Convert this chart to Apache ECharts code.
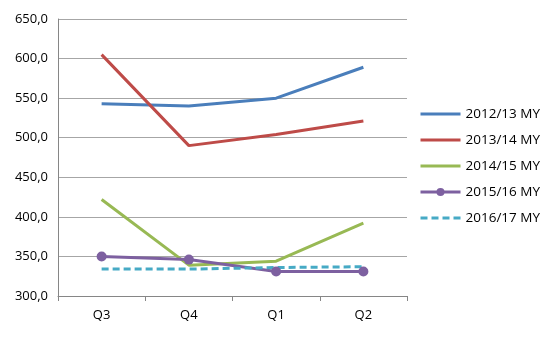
<!DOCTYPE html>
<html>
<head>
<meta charset="utf-8">
<script src="https://cdn.jsdelivr.net/npm/echarts@6/dist/echarts.min.js"></script>
<style>
  html, body { margin: 0; padding: 0; background: #fff; }
  #chart { width: 549px; height: 337px; }
</style>
</head>
<body>
<div id="chart"></div>
<script>
// Quarterly values per marketing year
const categories = ['Q3', 'Q4', 'Q1', 'Q2'];
const my2012 = [543, 540, 550, 589];
const my2013 = [605, 490, 504, 521];
const my2014 = [422, 339, 344, 392];
const my2015 = [350, 346, 331, 331];
const my2016 = [334, 334, 336, 337];

const seriesDefs = [
  { name: '2012/13 MY', data: my2012, color: '#4A7EBB' },
  { name: '2013/14 MY', data: my2013, color: '#BE4B48' },
  { name: '2014/15 MY', data: my2014, color: '#98B954' },
  { name: '2015/16 MY', data: my2015, color: '#7D60A0', marker: true },
  { name: '2016/17 MY', data: my2016, color: '#46AAC5', dashed: true }
];

const fontFamily = 'Open Sans, Noto Sans, sans-serif';
const chart = echarts.init(document.getElementById('chart'));

chart.setOption({
  animation: false,
  grid: { left: 58, right: 142, top: 19, bottom: 41 },
  xAxis: {
    type: 'category',
    data: categories,
    boundaryGap: true,
    axisLine: { lineStyle: { color: '#868686', width: 1 } },
    axisTick: { show: true, length: 5, lineStyle: { color: '#868686' } },
    axisLabel: { color: '#000', fontSize: 13, fontFamily: fontFamily, margin: 13 }
  },
  yAxis: {
    type: 'value',
    min: 300,
    max: 650,
    interval: 50,
    axisLine: { show: true, lineStyle: { color: '#868686', width: 1 } },
    axisTick: { show: false },
    splitLine: { lineStyle: { color: '#A6A6A6', width: 1 } },
    axisLabel: {
      color: '#000',
      fontSize: 13,
      fontFamily: fontFamily,
      margin: 10,
      formatter: v => v.toFixed(1).replace('.', ',')
    }
  },
  legend: {
    orient: 'vertical',
    left: 414,
    top: 102,
    itemWidth: 40,
    itemHeight: 10,
    itemGap: 12,
    lineStyle: { width: 3 },
    textStyle: { color: '#000', fontSize: 13.5, fontFamily: fontFamily },
    data: seriesDefs.map(s => ({
      name: s.name,
      itemStyle: s.marker ? { color: s.color } : { opacity: 0 }
    }))
  },
  series: seriesDefs.map(s => ({
    name: s.name,
    type: 'line',
    data: s.data,
    color: s.color,
    symbol: s.marker ? 'circle' : 'none',
    symbolSize: 10,
    showSymbol: !!s.marker,
    lineStyle: { width: 3, color: s.color, type: s.dashed ? [7, 4] : 'solid' },
    itemStyle: { color: s.color }
  }))
});
</script>
</body>
</html>
